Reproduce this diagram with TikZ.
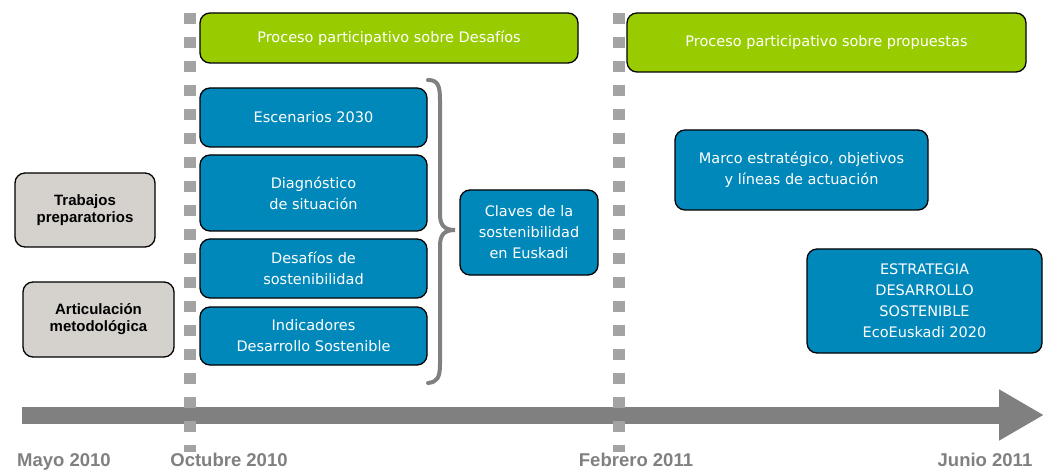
\documentclass[tikz,border=0pt]{standalone}
\usepackage{fontspec}
\setmainfont{DejaVu Sans}
\newfontfamily\arialfont{Liberation Sans}
\usetikzlibrary{arrows.meta}

\definecolor{boxgreen}{HTML}{99CC00}
\definecolor{boxblue}{HTML}{0088BA}
\definecolor{boxgrey}{HTML}{D5D1CD}
\definecolor{axisgrey}{HTML}{808080}
\definecolor{dashgrey}{HTML}{A3A3A3}

\begin{document}
\begin{tikzpicture}[x=1pt, y=-1pt,
	box/.style={draw=black, line width=1.3pt, rounded corners=10pt, text=white, align=center, inner sep=0pt, font=\fontsize{14.5}{21}\selectfont},
	greenbox/.style={box, fill=boxgreen},
	bluebox/.style={box, fill=boxblue},
	greybox/.style={box, fill=boxgrey, text=black, font=\arialfont\bfseries\fontsize{15}{17}\selectfont},
	datelabel/.style={text=axisgrey, inner sep=0pt, anchor=base, font=\arialfont\bfseries\fontsize{18.5}{20}\selectfont},
	milestone/.style={dashgrey, line width=12pt, dash pattern=on 11pt off 13pt},
	brace/.style={axisgrey, line width=4pt, line cap=round}]
	\useasboundingbox (0,0) rectangle (1046,470);

	% time axis
	\coordinate (tstart) at (22,415);
	\coordinate (tend) at (1044,415);
	\draw[axisgrey, line width=17pt, -{Triangle[length=45pt, width=48pt]}] (tstart) -- (tend);

	% milestones
	\coordinate (octtop) at (190,13);
	\coordinate (octbot) at (190,452);
	\coordinate (febtop) at (619,13);
	\coordinate (febbot) at (619,452);
	\draw[milestone] (octtop) -- (octbot);
	\draw[milestone] (febtop) -- (febbot);

	\node[datelabel] (mayo) at (64,466) {Mayo 2010};
	\node[datelabel] (octubre) at (229,466) {Octubre 2010};
	\node[datelabel] (febrero) at (636,466) {Febrero 2011};
	\node[datelabel] (junio) at (985,466) {Junio 2011};

	% left column
	\node[greybox, minimum width=140pt, minimum height=74pt] (trabajos) at (85,210) {Trabajos\\preparatorios};
	\node[greybox, minimum width=151pt, minimum height=75pt] (articulacion) at (98.5,319.5) {Articulación\\metodológica};

	% first phase
	\node[greenbox, minimum width=378pt, minimum height=50pt] (desafios) at (389,38) {Proceso participativo sobre Desafíos};
	\node[bluebox, minimum width=227pt, minimum height=59pt] (escenarios) at (313.5,117.5) {Escenarios 2030};
	\node[bluebox, minimum width=227pt, minimum height=76pt] (diagnostico) at (313.5,193) {Diagnóstico\\de situación};
	\node[bluebox, minimum width=227pt, minimum height=59pt] (retos) at (313.5,268.5) {Desafíos de\\sostenibilidad};
	\node[bluebox, minimum width=227pt, minimum height=58pt] (indicadores) at (313.5,336) {Indicadores\\Desarrollo Sostenible};
	\node[bluebox, minimum width=138pt, minimum height=85pt] (claves) at (529,232.5) {Claves de la\\sostenibilidad\\en Euskadi};

	% brace
	\draw[brace] (428,80) .. controls (438,80) and (440,86) .. (440,100) -- (440,214)
		.. controls (440,225) and (444,230) .. (455,230)
		.. controls (444,230) and (440,235) .. (440,246) -- (440,364)
		.. controls (440,378) and (437,382) .. (428,383);

	% second phase
	\node[greenbox, minimum width=399pt, minimum height=59pt] (propuestas) at (826.5,42.5) {Proceso participativo sobre propuestas};
	\node[bluebox, minimum width=253pt, minimum height=80pt] (marco) at (801.5,170) {Marco estratégico, objetivos\\y líneas de actuación};
	\node[bluebox, minimum width=235pt, minimum height=104pt] (estrategia) at (924.5,301) {ESTRATEGIA\\DESARROLLO\\SOSTENIBLE\\EcoEuskadi 2020};
\end{tikzpicture}
\end{document}
